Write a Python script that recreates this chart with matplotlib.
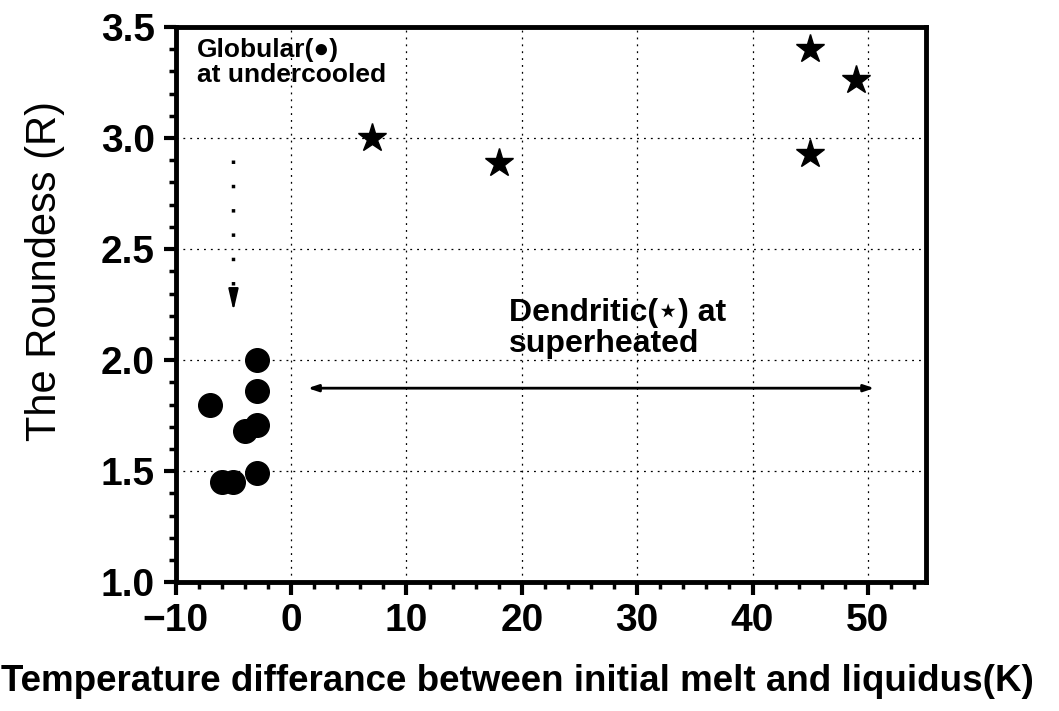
import matplotlib
matplotlib.use('Agg')
import matplotlib.pyplot as plt
from matplotlib.ticker import MultipleLocator

plt.rcParams['font.family'] = ['Liberation Sans', 'DejaVu Sans']

# globular grains (undercooled melt)
glob_dT = [-3, -3, -7, -4, -3, -3, -6, -5]
glob_R = [2.00, 1.86, 1.80, 1.68, 1.71, 1.49, 1.45, 1.45]

# dendritic grains (superheated melt)
dend_dT = [7, 18, 45, 49, 45]
dend_R = [3.00, 2.89, 3.40, 3.26, 2.93]

xticks = [-10, 0, 10, 20, 30, 40, 50]
yticks = [1.0, 1.5, 2.0, 2.5, 3.0, 3.5]

fig = plt.figure(figsize=(10.59, 7.11), dpi=100)
ax = fig.add_axes([0.166, 0.181, 0.708, 0.781])

ax.plot(glob_dT, glob_R, 'o', ms=17, color='k', ls='none', zorder=3)
ax.plot(dend_dT, dend_R, '*', ms=21, color='k', ls='none', zorder=3)

ax.set_xlim(-10, 55)
ax.set_ylim(1.0, 3.5)
ax.set_xticks(xticks)
ax.set_yticks(yticks)
ax.set_xticklabels(['\u221210', '0', '10', '20', '30', '40', '50'])
ax.set_yticklabels(['%.1f' % v for v in yticks])
ax.xaxis.set_minor_locator(MultipleLocator(2))
ax.yaxis.set_minor_locator(MultipleLocator(0.1))

ax.tick_params(which='major', direction='out', length=9, width=3, pad=6,
               labelsize=28)
ax.tick_params(which='minor', direction='out', length=5, width=2.5)
for lab in ax.get_xticklabels() + ax.get_yticklabels():
    lab.set_fontweight('bold')

for s in ax.spines.values():
    s.set_linewidth(3.5)

ax.grid(True, which='major', color='k', ls=(0, (1.5, 4)), lw=0.9)

ax.set_ylabel('The Roundess (R)', fontsize=30)
ax.yaxis.set_label_coords(-0.148, 0.56)
ax.set_xlabel('Temperature differance between initial melt and liquidus(K)',
              fontsize=26.5, fontweight='bold')
ax.xaxis.set_label_coords(0.455, -0.148)

# annotations
ax.text(-8.2, 3.45, 'Globular(\u25CF)\nat undercooled', fontsize=19,
        fontweight='bold', va='top', ha='left', linespacing=1.05)
ax.plot([-5, -5], [2.9, 2.32], color='k', lw=2.5, ls=(0, (1, 6)))
ax.annotate('', xy=(-5, 2.21), xytext=(-5, 2.31),
            arrowprops=dict(arrowstyle='-|>,head_length=1.3,head_width=0.3',
                            color='k', lw=1.5))

ax.text(18.9, 2.28, 'Dendritic(\u22C6) at\nsuperheated', fontsize=23,
        fontweight='bold', va='top', ha='left', linespacing=1.05)
ax.annotate('', xy=(1.2, 1.874), xytext=(50.8, 1.874),
            arrowprops=dict(arrowstyle='<|-|>,head_length=0.6,head_width=0.2',
                            color='k', lw=2))

fig.savefig('out.png', dpi=100)
